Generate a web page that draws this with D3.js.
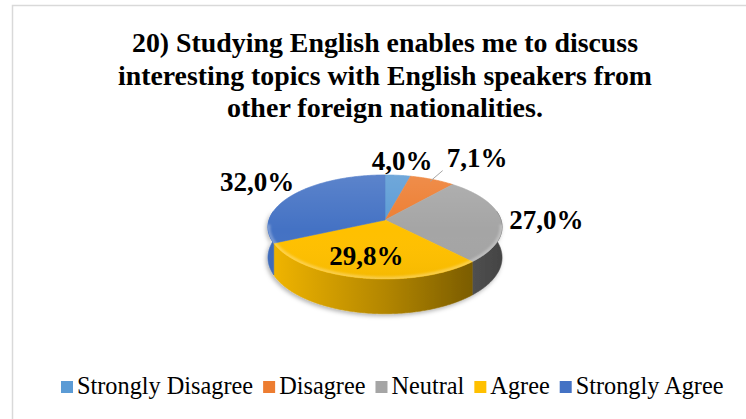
<!DOCTYPE html>
<html>
<head>
<meta charset="utf-8">
<script src="https://cdn.jsdelivr.net/npm/d3@7"></script>
<style>
  body { margin: 0; background: #fff; }
  svg { display: block; }
</style>
</head>
<body>
<svg id="chart" width="746" height="419"></svg>
<script>
// ---- data ----
const categories = ["Strongly Disagree", "Disagree", "Neutral", "Agree", "Strongly Agree"];
const values = [4.0, 7.1, 27.0, 29.8, 32.0];
const colors = ["#5B9BD5", "#ED7D31", "#A5A5A5", "#FFC000", "#4472C4"];
const titleLines = [
  "20) Studying English enables me to discuss",
  "interesting topics with English speakers from",
  "other foreign nationalities."
];

const W = 746, H = 419;
const svg = d3.select("#chart");
const defs = svg.append("defs");
const serif = "'Liberation Serif', 'Times New Roman', Times, serif";
const fmt = v => d3.format(".1f")(v).replace(".", ",") + "%";

// chart area frame
svg.append("rect")
  .attr("x", 12.5).attr("y", 5.5)
  .attr("width", W).attr("height", H)
  .attr("fill", "#fff")
  .attr("stroke", "#d9d9d9").attr("stroke-width", 1.5);

// ---- title ----
const titleLayout = [{ y: 52, w: 506 }, { y: 85, w: 534 }, { y: 117, w: 316 }];
svg.append("g").selectAll("text").data(titleLines).join("text")
  .attr("x", 385)
  .attr("y", (d, i) => titleLayout[i].y)
  .attr("text-anchor", "middle")
  .attr("font-family", serif)
  .attr("font-weight", "bold")
  .attr("font-size", 28)
  .attr("textLength", (d, i) => titleLayout[i].w)
  .attr("lengthAdjust", "spacingAndGlyphs")
  .attr("fill", "#000")
  .text(d => d);

// ---- 3D pie geometry (tilted disc with mild perspective) ----
const cx = 385, cy = 220, rx = 116, ry = 51.1, persp = 0.1346, depth = 30;
const deg = Math.PI / 180;

// project angle (clockwise from 12 o'clock) and radial fraction to screen
function project(theta, f = 1, drop = 0) {
  const u = f * Math.sin(theta);
  const v = -f * Math.cos(theta);
  const s = 1 / (1 - persp * v);
  return [cx + rx * u * s, cy + ry * v * s + drop * s];
}
function arcPoints(a0, a1, drop = 0) {
  const n = Math.max(2, Math.ceil((a1 - a0) / (0.5 * deg)));
  return d3.range(n + 1).map(i => project(a0 + (a1 - a0) * i / n, 1, drop));
}

const arcs = d3.pie().sort(null).value(d => d)(values);
const line = d3.line();

// gradients for the outer walls: lit from the left, darker to the right
arcs.forEach((a, i) => {
  const c = d3.color(colors[i]);
  const g = defs.append("linearGradient")
    .attr("id", "wall" + i)
    .attr("gradientUnits", "userSpaceOnUse")
    .attr("x1", cx - rx).attr("y1", 0).attr("x2", cx + rx).attr("y2", 0);
  [[0, 0.15], [0.5, 1.0], [1, 2.5]].forEach(([o, k]) =>
    g.append("stop").attr("offset", o).attr("stop-color", c.darker(k).formatHex()));
});

// soft shadow under the disc
const sh = defs.append("filter").attr("id", "shadow")
  .attr("x", "-10%").attr("y", "-10%").attr("width", "120%").attr("height", "130%");
sh.append("feDropShadow").attr("dx", -1.5).attr("dy", 2).attr("stdDeviation", 2)
  .attr("flood-color", "#000").attr("flood-opacity", 0.3);

// top face shading
const tg = defs.append("linearGradient").attr("id", "topShade")
  .attr("gradientUnits", "userSpaceOnUse")
  .attr("x1", 0).attr("y1", cy - ry).attr("x2", 0).attr("y2", cy + ry * 1.16);
tg.append("stop").attr("offset", 0).attr("stop-color", "#fff").attr("stop-opacity", 0.14);
tg.append("stop").attr("offset", 0.55).attr("stop-color", "#fff").attr("stop-opacity", 0.0);
tg.append("stop").attr("offset", 1).attr("stop-color", "#000").attr("stop-opacity", 0.04);

const rimBlur = defs.append("filter").attr("id", "rimBlur");
rimBlur.append("feGaussianBlur").attr("stdDeviation", 1.2);

const pieG = svg.append("g");

// outer walls (front half only)
const wallLo = 80 * deg, wallHi = 280 * deg;
const walls = pieG.append("g").attr("filter", "url(#shadow)");
arcs.forEach((a, i) => {
  const a0 = Math.max(a.startAngle, wallLo), a1 = Math.min(a.endAngle, wallHi);
  if (a1 <= a0) return;
  const top = arcPoints(a0, a1, 0);
  const bot = arcPoints(a0, a1, depth).reverse();
  walls.append("path")
    .attr("d", line(top.concat(bot)) + "Z")
    .attr("fill", `url(#wall${i})`)
    .attr("stroke", `url(#wall${i})`)
    .attr("stroke-width", 0.6);
});

// top faces
arcs.forEach((a, i) => {
  const pts = [[cx, cy]].concat(arcPoints(a.startAngle, a.endAngle));
  pieG.append("path")
    .attr("d", line(pts) + "Z")
    .attr("fill", colors[i])
    .attr("stroke", colors[i])
    .attr("stroke-width", 0.6);
});

// shading over the whole top face, plus a light rim on the front edge
const fullTop = line(arcPoints(0, 2 * Math.PI)) + "Z";
pieG.append("path").attr("d", fullTop).attr("fill", "url(#topShade)");
defs.append("clipPath").attr("id", "topClip").append("path").attr("d", fullTop);
pieG.append("path")
  .attr("d", line(arcPoints(95 * deg, 265 * deg)))
  .attr("fill", "none")
  .attr("stroke", "#fff").attr("stroke-opacity", 0.28).attr("stroke-width", 5)
  .attr("clip-path", "url(#topClip)")
  .attr("filter", "url(#rimBlur)");

// ---- data labels ----
// radial fraction and fine offsets for each label
const labelLayout = [
  { f: 1.31, dx: 1, dy: 7 },
  { f: 1.25, dx: 0, dy: 0, leader: true },
  { f: 1.38, dx: 2, dy: 11 },
  { f: 0.72, dx: -1, dy: 5 },
  { f: 1.44, dx: 0, dy: 7 }
];
const labG = svg.append("g")
  .attr("font-family", serif).attr("font-weight", "bold").attr("font-size", 27).attr("fill", "#000");
arcs.forEach((a, i) => {
  const mid = (a.startAngle + a.endAngle) / 2;
  const L = labelLayout[i];
  const p = project(mid, L.f);
  if (L.leader) {
    const p0 = project(mid, 0.95);
    svg.append("line")
      .attr("x1", p0[0]).attr("y1", p0[1]).attr("x2", p[0]).attr("y2", p[1])
      .attr("stroke", "#a6a6a6").attr("stroke-width", 1);
    labG.append("text")
      .attr("x", p[0] + 4).attr("y", p[1] - 4)
      .attr("text-anchor", "start")
      .text(fmt(values[i]));
  } else {
    labG.append("text")
      .attr("x", p[0] + L.dx).attr("y", p[1] + L.dy)
      .attr("text-anchor", "middle")
      .text(fmt(values[i]));
  }
});

// ---- legend ----
const legG = svg.append("g").attr("font-family", serif).attr("font-size", 24.3).attr("fill", "#000");
let lx = 61;
categories.forEach((c, i) => {
  legG.append("rect")
    .attr("x", lx).attr("y", 381).attr("width", 12).attr("height", 12)
    .attr("fill", colors[i]);
  const t = legG.append("text").attr("x", lx + 16).attr("y", 394).text(c);
  lx += 16 + t.node().getComputedTextLength() + 10;
});
</script>
</body>
</html>
